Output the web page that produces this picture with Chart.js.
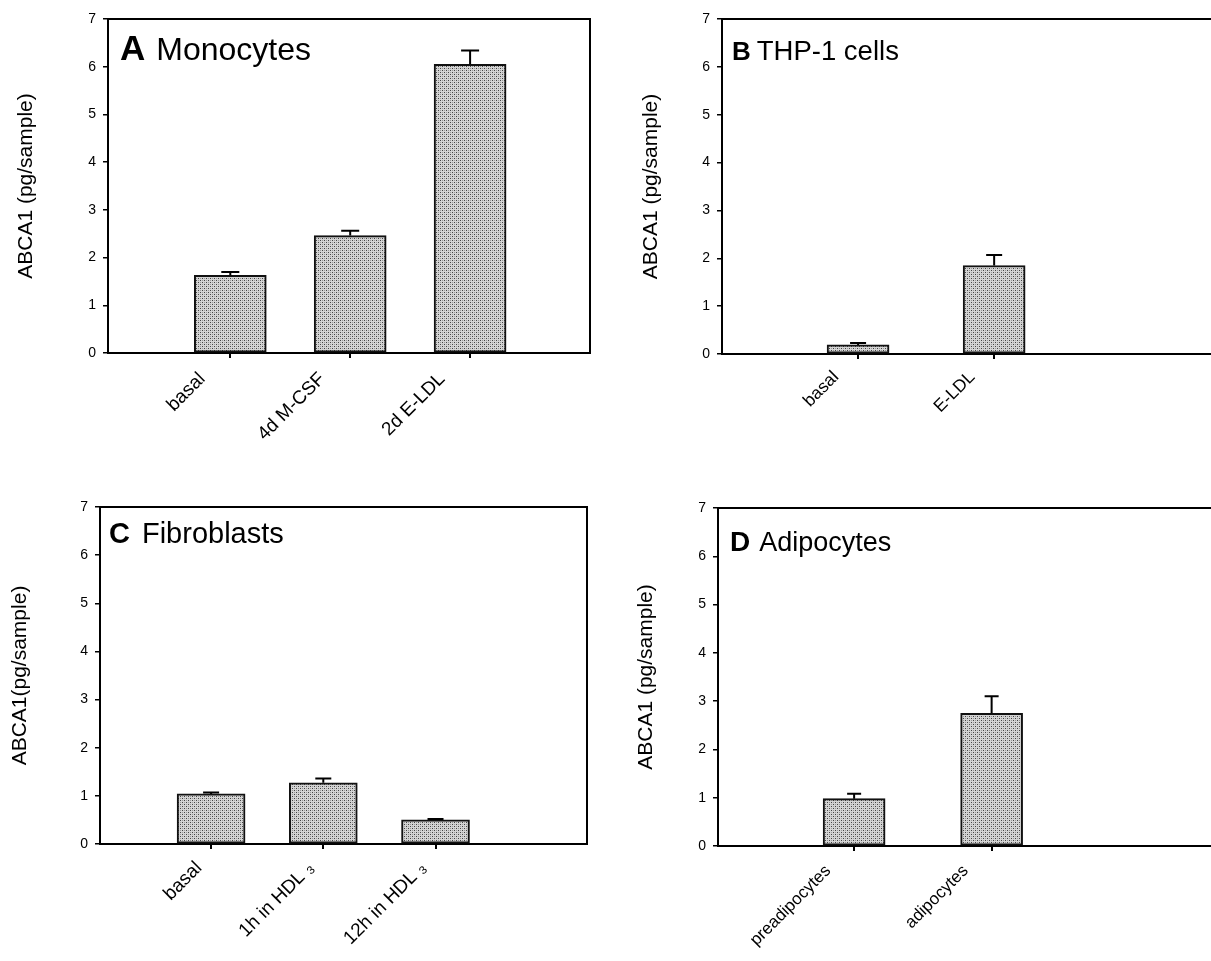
<!DOCTYPE html>
<html>
<head>
<meta charset="utf-8">
<script src="https://cdn.jsdelivr.net/npm/chart.js@4/dist/chart.umd.min.js"></script>
<style>
  html, body { margin: 0; padding: 0; background: #fff; overflow: hidden; }
  body { width: 1211px; height: 961px; position: relative; }
  .panel { position: absolute; }
</style>
</head>
<body>
<div class="panel" style="left:0;top:0"><canvas id="chart-a" width="605" height="440"></canvas></div>
<div class="panel" style="left:605px;top:0"><canvas id="chart-b" width="640" height="440"></canvas></div>
<div class="panel" style="left:0;top:440px"><canvas id="chart-c" width="605" height="521"></canvas></div>
<div class="panel" style="left:605px;top:440px"><canvas id="chart-d" width="640" height="521"></canvas></div>
<script>
const yTicks = [0, 1, 2, 3, 4, 5, 6, 7];

const monocyteLabels = ['basal', '4d M-CSF', '2d E-LDL'];
const monocyteValues = [1.63, 2.46, 6.05];
const monocyteErrors = [0.07, 0.10, 0.29];

const thpLabels = ['basal', 'E-LDL'];
const thpValues = [0.19, 1.85];
const thpErrors = [0.04, 0.22];

const fibroLabels = ['basal', '1h in HDL \u2083', '12h in HDL \u2083'];
const fibroValues = [1.04, 1.27, 0.50];
const fibroErrors = [0.03, 0.09, 0.02];

const adipoLabels = ['preadipocytes', 'adipocytes'];
const adipoValues = [0.98, 2.75];
const adipoErrors = [0.10, 0.35];

const FONT = "'Liberation Sans', Arial, Helvetica, sans-serif";

// stippled grey fill like the scanned figure
function makeStipple() {
    const c = document.createElement('canvas');
    c.width = 4; c.height = 4;
    const g = c.getContext('2d');
    g.fillStyle = '#d4d4d4';
    g.fillRect(0, 0, 4, 4);
    g.fillStyle = '#444';
    g.fillRect(0, 0, 1, 1);
    g.fillRect(2, 2, 1, 1);
    g.fillStyle = '#999';
    g.fillRect(2, 0, 1, 1);
    g.fillRect(0, 2, 1, 1);
    return g.createPattern(c, 'repeat');
}

const panelPlugin = {
    id: 'panelExtras',
    afterDatasetsDraw(chart) {
        const o = chart.options.plugins.panelExtras;
        const ctx = chart.ctx;
        const xs = chart.scales.x, ys = chart.scales.y;
        const area = chart.chartArea;
        ctx.save();
        // error bars (upper only)
        ctx.strokeStyle = '#000';
        ctx.lineWidth = 2;
        o.values.forEach((v, i) => {
            const px = xs.getPixelForValue(i + 1);
            const top = ys.getPixelForValue(v + o.errors[i]);
            const base = ys.getPixelForValue(v);
            ctx.beginPath();
            ctx.moveTo(px, base);
            ctx.lineTo(px, top);
            ctx.moveTo(px - o.cap / 2, top);
            ctx.lineTo(px + o.cap / 2, top);
            ctx.stroke();
        });
        // top and right frame
        ctx.beginPath();
        ctx.moveTo(area.left, area.top);
        ctx.lineTo(area.right, area.top);
        ctx.lineTo(area.right, area.bottom);
        ctx.stroke();
        // panel heading
        ctx.fillStyle = '#000';
        ctx.textBaseline = 'alphabetic';
        ctx.font = 'bold ' + o.letterSize + 'px ' + FONT;
        const lx = area.left + o.titleDx;
        const ly = area.top + o.titleDy;
        ctx.fillText(o.letter, lx, ly);
        const w = ctx.measureText(o.letter).width;
        ctx.font = o.nameSize + 'px ' + FONT;
        ctx.fillText(o.name, lx + w + o.gap, ly);
        ctx.restore();
    }
};

function makePanel(id, labels, values, errors, cfg) {
    const ctx = document.getElementById(id).getContext('2d');
    return new Chart(ctx, {
        type: 'bar',
        data: {
            datasets: [{
                data: values.map((v, i) => ({ x: i + 1, y: v })),
                backgroundColor: makeStipple(),
                borderColor: '#111',
                borderWidth: 2,
                borderSkipped: false,
                barThickness: cfg.barWidth
            }]
        },
        options: {
            responsive: false,
            animation: false,
            layout: { padding: { top: cfg.padTop, right: cfg.padRight, left: 0, bottom: 0 } },
            plugins: {
                legend: { display: false },
                tooltip: { enabled: false },
                panelExtras: {
                    values: values, errors: errors, cap: cfg.cap,
                    letter: cfg.letter, name: cfg.name,
                    letterSize: cfg.letterSize, nameSize: cfg.nameSize,
                    titleDx: cfg.titleDx, titleDy: cfg.titleDy, gap: cfg.gap
                }
            },
            scales: {
                x: {
                    type: 'linear',
                    min: cfg.xMin,
                    max: cfg.xMax,
                    offset: false,
                    afterFit: s => { s.height = cfg.xHeight; },
                    afterBuildTicks: s => { s.ticks = labels.map((l, i) => ({ value: i + 1 })); },
                    grid: { display: true, offset: false, drawOnChartArea: false, drawTicks: true, tickLength: 5, color: '#000', lineWidth: 2 },
                    border: { display: true, color: '#000', width: 2 },
                    ticks: {
                        autoSkip: false,
                        maxRotation: 45,
                        minRotation: 45,
                        padding: cfg.labelPad,
                        labelOffset: cfg.labelOffset,
                        color: '#000',
                        font: { family: FONT, size: cfg.labelSize },
                        callback: v => labels[Math.round(v) - 1] || ''
                    }
                },
                y: {
                    min: 0,
                    max: 7,
                    afterFit: s => { s.width = cfg.yWidth; },
                    afterBuildTicks: s => { s.ticks = yTicks.map(v => ({ value: v })); },
                    grid: { display: true, drawOnChartArea: false, drawTicks: true, tickLength: 5, color: '#000', lineWidth: 1.5 },
                    border: { display: true, color: '#000', width: 2 },
                    ticks: { padding: 7, color: '#000', font: { family: FONT, size: 14 } },
                    title: {
                        display: true,
                        text: cfg.yTitle,
                        color: '#000',
                        font: { family: FONT, size: 21 },
                        padding: { top: cfg.yTitlePad, bottom: 0 }
                    }
                }
            }
        },
        plugins: [panelPlugin]
    });
}

makePanel('chart-a', monocyteLabels, monocyteValues, monocyteErrors, {
    barWidth: 72, cap: 18, padTop: 19, padRight: 15, xHeight: 87, yWidth: 108, yTitlePad: 14,
    xMin: -0.02, xMax: 4, labelPad: 10, labelOffset: -28, labelSize: 19,
    yTitle: 'ABCA1 (pg/sample)', letter: 'A', name: 'Monocytes',
    letterSize: 35, nameSize: 32, titleDx: 12, titleDy: 41, gap: 11
});
makePanel('chart-b', thpLabels, thpValues, thpErrors, {
    barWidth: 62, cap: 16, padTop: 19, padRight: 10, xHeight: 86, yWidth: 117, yTitlePad: 34,
    xMin: 0, xMax: 3.77, labelPad: 8, labelOffset: -22, labelSize: 17.5,
    yTitle: 'ABCA1 (pg/sample)', letter: 'B', name: 'THP-1 cells',
    letterSize: 26, nameSize: 27.5, titleDx: 10, titleDy: 41, gap: 6
});
makePanel('chart-c', fibroLabels, fibroValues, fibroErrors, {
    barWidth: 68, cap: 16, padTop: 67, padRight: 18, xHeight: 117, yWidth: 100, yTitlePad: 8,
    xMin: 0.01, xMax: 4.35, labelPad: 8, labelOffset: -12, labelSize: 19,
    yTitle: 'ABCA1(pg/sample)', letter: 'C', name: 'Fibroblasts',
    letterSize: 29, nameSize: 29, titleDx: 9, titleDy: 36, gap: 12
});
makePanel('chart-d', adipoLabels, adipoValues, adipoErrors, {
    barWidth: 62, cap: 14, padTop: 68, padRight: 10, xHeight: 115, yWidth: 113, yTitlePad: 29,
    xMin: 0.01, xMax: 3.77, labelPad: 10, labelOffset: -26, labelSize: 17,
    yTitle: 'ABCA1 (pg/sample)', letter: 'D', name: 'Adipocytes',
    letterSize: 28, nameSize: 27, titleDx: 12, titleDy: 43, gap: 9
});
</script>
</body>
</html>
